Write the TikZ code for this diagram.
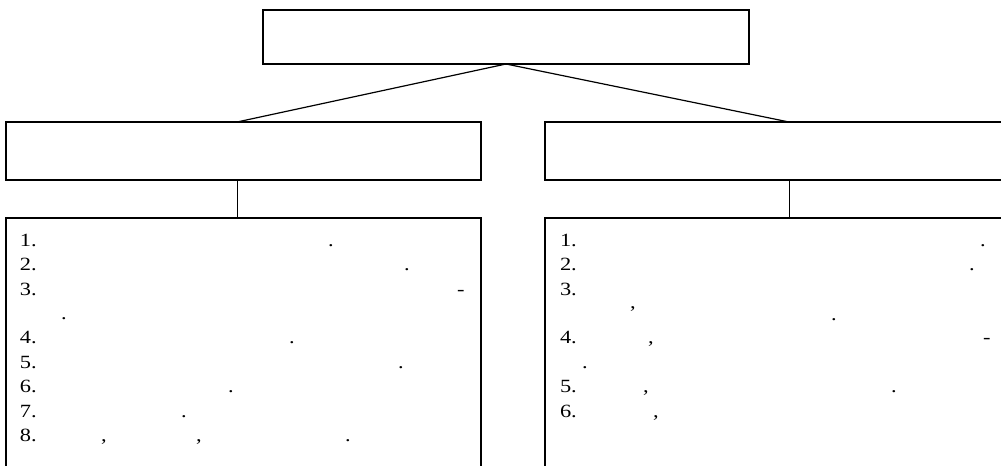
\documentclass[tikz,border=0pt]{standalone}
\usepackage{fontspec}
\setmainfont[FakeStretch=1.2]{Liberation Serif}
\begin{document}
\begin{tikzpicture}[x=0.75pt,y=-0.75pt,
  box/.style={draw, line width=0.9pt, inner sep=0pt, outer sep=0pt, anchor=north west},
  conn/.style={line width=0.9pt},
  lbl/.style={anchor=base west, inner sep=0pt, outer sep=0pt, font=\fontsize{14pt}{16pt}\selectfont}]
\clip (0,0) rectangle (1001,465);
\fill[white] (0,0) rectangle (1001,465);
% boxes
\node[box, minimum width=364.5pt, minimum height=40.5pt] (top) at (263,10) {};
\node[box, minimum width=356.25pt, minimum height=43.5pt] (lm) at (6,122) {};
\node[box, minimum width=366pt, minimum height=43.5pt] (rm) at (545,122) {};
\node[box, minimum width=356.25pt, minimum height=195pt] (ll) at (6,218) {};
\node[box, minimum width=366pt, minimum height=195pt] (rl) at (545,218) {};
% connectors
\draw[conn] (top.south) -- ([xshift=-4.875pt]lm.north);
\draw[conn] (top.south) -- (rm.north);
\draw[line width=0.75pt] ([xshift=-4.875pt]lm.south) -- ([xshift=-4.875pt]ll.north);
\draw[line width=0.75pt] (rm.south) -- (rl.north);
% left list
\node[lbl] (l1) at (20,246) {1.};
\node[lbl] (l2) at (20,270.5) {2.};
\node[lbl] (l3) at (20,295) {3.};
\node[lbl] (l4) at (20,343.5) {4.};
\node[lbl] (l5) at (20,368) {5.};
\node[lbl] (l6) at (20,392.5) {6.};
\node[lbl] (l7) at (20,417) {7.};
\node[lbl] (l8) at (20,441.5) {8.};
\node[lbl] (lp1) at (328,246) {.};
\node[lbl] (lp2) at (404,270.5) {.};
\node[lbl] (lp3) at (457,295) {-};
\node[lbl] (lp3b) at (61,319) {.};
\node[lbl] (lp4) at (289,343.5) {.};
\node[lbl] (lp5) at (398,368) {.};
\node[lbl] (lp6) at (228,392.5) {.};
\node[lbl] (lp7) at (181,417) {.};
\node[lbl] (lp8a) at (101,441.5) {,};
\node[lbl] (lp8b) at (196,441.5) {,};
\node[lbl] (lp8c) at (345,441.5) {.};
% right list
\node[lbl] (r1) at (560,246) {1.};
\node[lbl] (r2) at (560,270.5) {2.};
\node[lbl] (r3) at (560,295) {3.};
\node[lbl] (r4) at (560,343.5) {4.};
\node[lbl] (r5) at (560,392.5) {5.};
\node[lbl] (r6) at (560,417) {6.};
\node[lbl] (rp1) at (980,246) {.};
\node[lbl] (rp2) at (969,270.5) {.};
\node[lbl] (rp3a) at (630,308) {,};
\node[lbl] (rp3b) at (831,320) {.};
\node[lbl] (rp4a) at (648,343.5) {,};
\node[lbl] (rp4b) at (983,343.5) {-};
\node[lbl] (rp4c) at (582,368) {.};
\node[lbl] (rp5a) at (643,392.5) {,};
\node[lbl] (rp5b) at (891,392.5) {.};
\node[lbl] (rp6a) at (653,417) {,};
\end{tikzpicture}
\end{document}
